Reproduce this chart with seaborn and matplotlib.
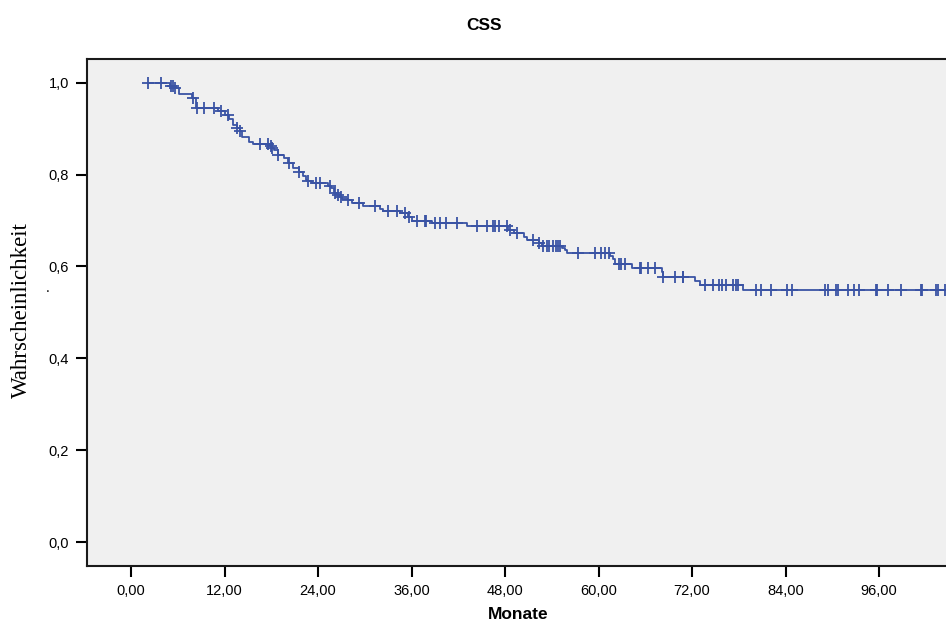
import numpy as np
import pandas as pd
import seaborn as sns
import matplotlib
matplotlib.use("Agg")
import matplotlib.pyplot as plt

# Kaplan-Meier steps (months, survival)
step_time = [2.2, 5.0, 5.6, 6.1, 7.8, 8.4, 11.2, 12.1, 12.6, 13.1, 13.6, 14.0, 14.2,
             15.1, 15.7, 17.8, 18.1, 18.3, 18.9, 19.6, 20.2, 20.8, 21.5, 22.1, 22.4,
             22.6, 23.2, 25.3, 25.6, 26.0, 26.4, 26.8, 27.1, 27.9, 28.3, 29.8, 32.0,
             32.4, 34.5, 35.6, 36.0, 38.6, 43.1, 48.4, 49.1, 50.4, 50.8, 52.3, 52.7,
             55.3, 55.7, 55.9, 61.5, 61.9, 62.1, 64.3, 68.1, 68.3, 72.4, 73.0, 78.5,
             106.0]
step_surv = [1.000, 0.993, 0.988, 0.976, 0.967, 0.945, 0.938, 0.930, 0.921, 0.908,
             0.901, 0.894, 0.882, 0.872, 0.867, 0.862, 0.858, 0.854, 0.843, 0.836,
             0.825, 0.814, 0.805, 0.796, 0.789, 0.785, 0.781, 0.776, 0.771, 0.760,
             0.756, 0.751, 0.747, 0.744, 0.738, 0.731, 0.725, 0.720, 0.716, 0.708,
             0.698, 0.694, 0.687, 0.680, 0.673, 0.665, 0.658, 0.651, 0.645, 0.641,
             0.636, 0.630, 0.623, 0.616, 0.606, 0.596, 0.588, 0.578, 0.569, 0.559,
             0.548, 0.548]

# censored observations (months)
censor_time = [2.2, 3.85, 5.1, 5.4, 5.7, 7.9, 8.5, 9.3, 10.6, 11.6, 12.5, 13.6, 14.0,
               16.6, 17.6, 17.9, 18.1, 18.9, 20.3, 21.5, 22.7, 23.7, 24.3, 25.5, 26.2,
               26.5, 27.0, 27.9, 29.3, 31.3, 33.0, 34.1, 35.2, 35.7, 36.7, 37.7, 37.9,
               39.0, 39.6, 40.4, 41.9, 44.4, 45.7, 46.5, 46.7, 47.2, 48.2, 48.6, 49.5,
               51.6, 52.4, 52.9, 53.4, 53.6, 54.2, 54.6, 54.8, 55.1, 57.4, 59.6, 60.3,
               60.8, 61.4, 62.6, 62.9, 63.4, 65.3, 65.5, 66.4, 67.3, 68.3, 69.8, 70.8,
               70.9, 73.7, 74.7, 75.5, 75.8, 76.4, 77.3, 77.7, 77.9, 80.2, 80.9, 82.2,
               84.2, 84.8, 89.1, 89.4, 90.5, 90.7, 92.0, 92.8, 93.4, 95.6, 95.8, 97.2,
               98.8, 101.4, 101.5, 103.3, 103.6, 104.5]

x_ticks = [0, 12, 24, 36, 48, 60, 72, 84, 96]
x_labels = ["0,00", "12,00", "24,00", "36,00", "48,00", "60,00", "72,00", "84,00", "96,00"]
y_ticks = [0.0, 0.2, 0.4, 0.6, 0.8, 1.0]
y_labels = ["0,0", "0,2", "0,4", "0,6", "0,8", "1,0"]

blue = "#3A53A4"

steps = pd.DataFrame({"Monate": step_time, "surv": step_surv})
idx = np.searchsorted(step_time, censor_time, side="right") - 1
censored = pd.DataFrame({"Monate": censor_time, "surv": np.array(step_surv)[idx]})

sns.set_style("ticks", {"axes.facecolor": "#F0F0F0", "axes.edgecolor": "#1a1a1a",
                        "text.color": "black", "xtick.color": "black",
                        "ytick.color": "black"})
plt.rcParams["font.family"] = ["Liberation Sans", "DejaVu Sans"]

fig = plt.figure(figsize=(9.46, 6.26), dpi=100)
ax = fig.add_axes([0.092, 0.096, 0.908, 0.81])

sns.lineplot(data=steps, x="Monate", y="surv", drawstyle="steps-post",
             color=blue, linewidth=1.3, ax=ax)
sns.scatterplot(data=censored, x="Monate", y="surv", marker="+", s=75,
                color=blue, linewidth=1.3, ax=ax, zorder=3)

ax.set_xlim(-5.65, 104.6)
ax.set_ylim(-0.052, 1.052)
ax.set_xticks(x_ticks)
ax.set_xticklabels(x_labels, fontsize=10.5, color="black")
ax.set_yticks(y_ticks)
ax.set_yticklabels(y_labels, fontsize=10.5, color="black")
ax.tick_params(direction="out", length=8, width=1.5, pad=5, colors="black")
for side in ["left", "top", "bottom"]:
    ax.spines[side].set_linewidth(1.5)
ax.spines["right"].set_visible(False)
ax.set_xlabel("")
ax.set_ylabel("")

fig.text(0.512, 0.96, "CSS", ha="center", va="center", fontsize=12.5,
         fontweight="bold", color="black")
fig.text(0.548, 0.019, "Monate", ha="center", va="center", fontsize=12.5,
         fontweight="bold", color="black")
fig.text(0.023, 0.505, "Wahrscheinlichkeit", rotation=90, ha="center", va="center",
         fontsize=16.5, color="black", family=["Liberation Serif", "DejaVu Serif"])
fig.text(0.05, 0.54, ".", ha="center", va="center", fontsize=10, color="black")

fig.savefig("out.png", dpi=100)
